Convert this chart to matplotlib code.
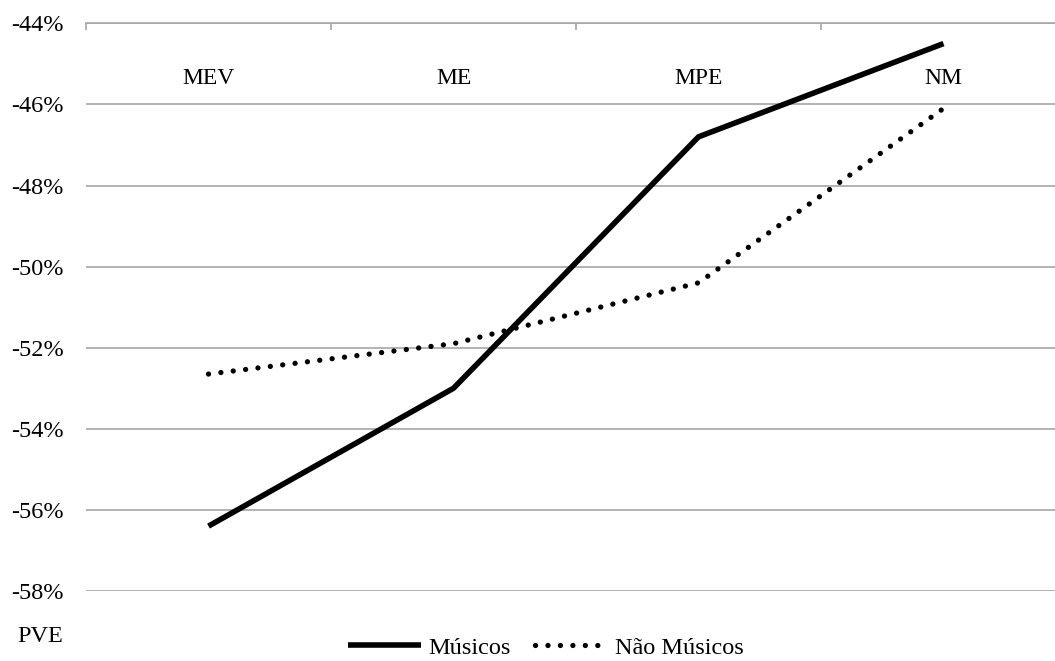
import matplotlib
matplotlib.use("Agg")
import matplotlib.pyplot as plt
from matplotlib.ticker import FixedLocator, FuncFormatter

plt.rcParams['font.family'] = ['Liberation Serif', 'DejaVu Serif']

categorias = ['MEV', 'ME', 'MPE', 'NM']
musicos = [-56.4, -53.0, -46.8, -44.5]
nao_musicos = [-52.65, -51.9, -50.4, -46.1]
y_ticks = [-58, -56, -54, -52, -50, -48, -46, -44]

fig = plt.figure(figsize=(10.55, 6.61), dpi=100)
# plot area runs a bit past the right edge, like the original
ax = fig.add_axes([86 / 1055, 70 / 661, 980 / 1055, (637.7 - 70) / 661])

x = range(len(categorias))
ax.plot(x, musicos, color='black', lw=4.0, solid_capstyle='butt', label='Músicos')
ax.plot(x, nao_musicos, color='black', lw=3.8, linestyle=(0, (0.01, 2.35)),
        dash_capstyle='round', label='Não Músicos')

ax.set_xlim(-0.5, len(categorias) - 0.5)
ax.set_ylim(-58, -44)

grid_col = '#a6a6a6'
ax.set_yticks(y_ticks)
ax.yaxis.set_major_formatter(FuncFormatter(lambda v, p: f'{v:.0f}%'))
ax.grid(axis='y', color=grid_col, lw=1.2)
ax.tick_params(axis='y', length=0, pad=16, labelsize=17.5)

# category axis sits on top (values are negative)
ax.xaxis.tick_top()
ax.xaxis.set_major_locator(FixedLocator([i - 0.5 for i in range(len(categorias) + 1)]))
ax.xaxis.set_minor_locator(FixedLocator(list(x)))
ax.xaxis.set_major_formatter(FuncFormatter(lambda v, p: ''))
ax.set_xticks(list(x), categorias, minor=True)
ax.tick_params(axis='x', which='major', direction='in', length=5, color=grid_col, width=1.2)
ax.tick_params(axis='x', which='minor', length=0, pad=-47, labelsize=17)

for s in ['left', 'right', 'bottom']:
    ax.spines[s].set_visible(False)
ax.spines['top'].set_color(grid_col)
ax.spines['top'].set_linewidth(1.2)
ax.set_axisbelow(True)

fig.text(63 / 1055, 1 - 637 / 661, 'PVE', ha='right', va='center', fontsize=17.5)

fig.legend(loc='lower center', bbox_to_anchor=(546 / 1055, -0.03), ncol=2, frameon=False,
           fontsize=17.5, handlelength=3.0, handletextpad=0.3, columnspacing=1.0)

fig.savefig('out.png', dpi=100)
